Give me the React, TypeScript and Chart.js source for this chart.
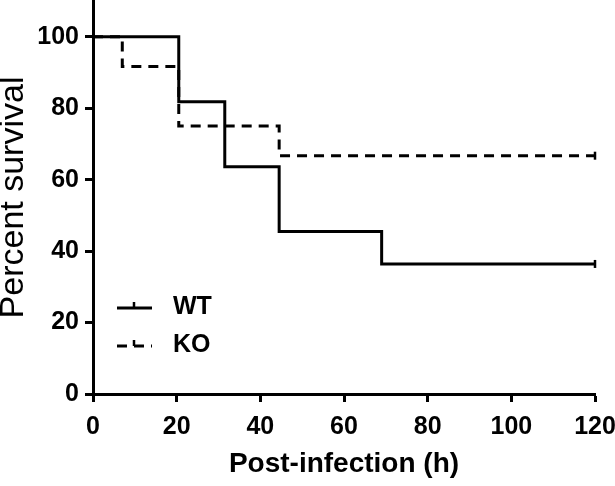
import React, { useEffect, useRef } from "react";
import { Chart, registerables } from "chart.js";

Chart.register(...registerables);

const seriesLabels = ["WT", "KO"];
const wtTimes = [0, 20.5, 31.5, 44.5, 69, 120];
const wtSurvival = [100, 81.8, 63.6, 45.5, 36.4, 36.4];
const koTimes = [0, 7, 20.5, 44.5, 120];
const koSurvival = [100, 91.7, 75, 66.7, 66.7];
const xTicks = [0, 20, 40, 60, 80, 100, 120];
const yTicks = [0, 20, 40, 60, 80, 100];
const xTitle = "Post-infection (h)";
const yTitle = "Percent survival";

const FONT = "'Liberation Sans', Arial, sans-serif";

const insideLegend = {
  id: "insideLegend",
  afterDatasetsDraw(chart: any) {
    const { ctx, chartArea } = chart;
    const x0 = chartArea.left + 24;
    const rowYs = [chartArea.bottom - 86, chartArea.bottom - 48];
    chart.data.datasets.forEach((ds: any, i: number) => {
      const y = rowYs[i];
      ctx.save();
      ctx.strokeStyle = "#000";
      ctx.lineWidth = 3;
      ctx.setLineDash(ds.borderDash || []);
      ctx.beginPath();
      ctx.moveTo(x0, y);
      ctx.lineTo(x0 + 35, y);
      ctx.stroke();
      ctx.setLineDash([]);
      ctx.lineWidth = 2.5;
      ctx.beginPath();
      ctx.moveTo(x0 + 17, y - 6);
      ctx.lineTo(x0 + 17, y);
      ctx.stroke();
      ctx.fillStyle = "#000";
      ctx.font = `bold 25px ${FONT}`;
      ctx.textAlign = "left";
      ctx.textBaseline = "middle";
      ctx.fillText(ds.label, x0 + 56, y - 1);
      ctx.restore();
    });
  },
};

function toPoints(xs: number[], ys: number[]) {
  return xs.map((x, i) => ({ x, y: ys[i] }));
}

export default function App() {
  const ref = useRef<HTMLCanvasElement>(null);
  useEffect(() => {
    if (!ref.current) return;
    const lastOnly = (n: number) => (ctx: any) => (ctx.dataIndex === n - 1 ? 4 : 0);
    const chart = new Chart(ref.current, {
      type: "line",
      data: {
        datasets: [
          {
            label: seriesLabels[0],
            data: toPoints(wtTimes, wtSurvival),
            stepped: "before",
            borderColor: "#000",
            borderWidth: 3,
            fill: false,
            pointStyle: "line",
            rotation: 90,
            pointRadius: lastOnly(wtTimes.length),
            pointBorderColor: "#000",
            pointBorderWidth: 2.5,
            clip: false,
          },
          {
            label: seriesLabels[1],
            data: toPoints(koTimes, koSurvival),
            stepped: "before",
            borderColor: "#000",
            borderWidth: 3,
            borderDash: [10, 7],
            fill: false,
            pointStyle: "line",
            rotation: 90,
            pointRadius: lastOnly(koTimes.length),
            pointBorderColor: "#000",
            pointBorderWidth: 2.5,
            clip: false,
          },
        ],
      } as any,
      options: {
        responsive: false,
        animation: false,
        devicePixelRatio: 1,
        layout: { autoPadding: false, padding: { top: 1, right: 20, left: 0, bottom: 0 } },
        plugins: { legend: { display: false }, tooltip: { enabled: false } },
        scales: {
          x: {
            type: "linear",
            min: 0,
            max: 120,
            afterBuildTicks: (axis: any) => {
              axis.ticks = xTicks.map((v) => ({ value: v }));
            },
            afterFit: (axis: any) => {
              axis.height = 92;
              axis.paddingLeft = 0;
              axis.paddingRight = 0;
            },
            border: { display: true, color: "#000", width: 3 },
            grid: {
              display: true,
              drawOnChartArea: false,
              drawTicks: true,
              tickLength: 8,
              tickWidth: 3,
              tickColor: "#000",
            },
            ticks: {
              color: "#000",
              font: { family: FONT, size: 25, weight: "bold" },
              padding: 10,
              maxRotation: 0,
              autoSkip: false,
            },
            title: {
              display: true,
              text: xTitle,
              color: "#000",
              font: { family: FONT, size: 28, weight: "bold", lineHeight: 1.2 },
              padding: { top: 0, bottom: 5 },
            },
          },
          y: {
            type: "linear",
            min: 0,
            max: 110,
            afterBuildTicks: (axis: any) => {
              axis.ticks = yTicks.map((v) => ({ value: v }));
            },
            afterFit: (axis: any) => {
              axis.width = 93;
              axis.paddingTop = 0;
              axis.paddingBottom = 0;
            },
            border: { display: true, color: "#000", width: 3 },
            grid: {
              display: true,
              drawOnChartArea: false,
              drawTicks: true,
              tickLength: 8,
              tickWidth: 3,
              tickColor: "#000",
            },
            ticks: {
              color: "#000",
              font: { family: FONT, size: 25, weight: "bold" },
              padding: 6,
              autoSkip: false,
            },
            title: {
              display: true,
              text: yTitle,
              color: "#000",
              font: { family: FONT, size: 34, weight: "normal", lineHeight: 0.8 },
              padding: { top: 0, bottom: 0 },
            },
          },
        },
      } as any,
      plugins: [insideLegend],
    });
    return () => chart.destroy();
  }, []);
  return (
    <div style={{ position: "fixed", left: 0, top: 0, width: 615, height: 486, background: "#fff" }}>
      <canvas ref={ref} width={615} height={486} />
    </div>
  );
}
